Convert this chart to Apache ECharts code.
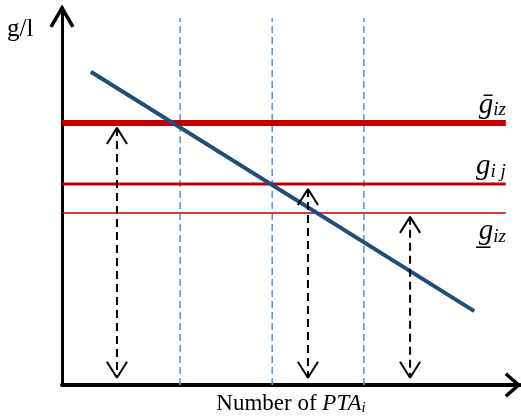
<!DOCTYPE html>
<html>
<head>
<meta charset="utf-8">
<script src="https://cdn.jsdelivr.net/npm/echarts@6/dist/echarts.min.js"></script>
<style>html,body{margin:0;padding:0;background:#fff}#c{width:521px;height:417px}</style>
</head>
<body>
<div id="c"></div>
<script>
// ---- data (schematic, axis units 0..100) ----
const regressionLine = [[6.3, 83.1], [90.0, 19.6]];
const levelNames = ['{g|ḡ}{s|iz}', '{g|g}{s|i j}', '{g|g̲}{s|iz}'];
const levelValues = [69.5, 53.3, 45.6];
const levelEnd = 96.9;
const verticalX = [25.8, 45.9, 65.9];
const verticalTop = 97.3;
const arrowX = [12.0, 53.7, 76.0];
const arrowTop = [68.2, 52.0, 44.6];
const arrowBottom = 1.9;
const axisTips = [[0, 100], [99.7, 0]];
const xAxisName = '{n|Number of }{p|PTA}{i|i}';
const yAxisName = 'g/l';

// ---- styles ----
const levelWidths = [6, 3, 1.5];
const red = '#c00000';
const hw = 2.2, hh = 4.25; // chevron half-width / height in axis units

function seg(data, lineStyle) {
  return { type: 'line', silent: true, symbol: 'none', clip: false, animation: false, data: data, lineStyle: lineStyle };
}

const series = [];
verticalX.forEach(x => series.push(seg([[x, 0], [x, verticalTop]], { color: '#5b9bd5', width: 1.6, type: [7, 4] })));
levelValues.forEach((v, i) => series.push({
  type: 'line', silent: true, clip: false,
  symbol: 'circle', symbolSize: 0, showSymbol: true,
  itemStyle: { color: red },
  data: [[0, v], {
    value: [levelEnd, v],
    label: {
      show: true, formatter: levelNames[i], position: i === 2 ? 'bottom' : 'top',
      align: 'right', distance: i === 2 ? 4 : 3,
      rich: {
        g: { fontFamily: 'Liberation Serif', fontStyle: 'italic', fontSize: 29, color: '#000', verticalAlign: 'bottom' },
        s: { fontFamily: 'Liberation Serif', fontStyle: 'italic', fontSize: 19, color: '#000', verticalAlign: 'bottom' }
      }
    }
  }],
  lineStyle: { color: red, width: levelWidths[i], cap: 'butt' }
}));
series.push(seg(regressionLine, { color: '#1f4e79', width: 4 }));
arrowX.forEach((x, i) => {
  series.push(seg([[x, arrowTop[i]], [x, arrowBottom]], { color: '#000', width: 2, type: [8, 5] }));
  series.push(seg([[x - hw, arrowTop[i] - hh], [x, arrowTop[i]], [x + hw, arrowTop[i] - hh]], { color: '#000', width: 2 }));
  series.push(seg([[x - hw, arrowBottom + hh], [x, arrowBottom], [x + hw, arrowBottom + hh]], { color: '#000', width: 2 }));
});
// axis arrow heads (open chevrons), drawn through the axis scales
series.push({
  type: 'custom', silent: true, clip: false,
  data: axisTips,
  encode: { x: 0, y: 1 },
  renderItem: function (params, api) {
    const tx = api.value(0), ty = api.value(1);
    const pts = params.dataIndex === 0
      ? [[tx - 2.4, ty - 5], [tx, ty], [tx + 2.4, ty - 5]]
      : [[tx - 2.8, ty + 3.0], [tx, ty], [tx - 2.8, ty - 3.0]];
    return {
      type: 'polyline',
      shape: { points: pts.map(p => api.coord(p)) },
      style: { stroke: '#000', lineWidth: 3.5, fill: null }
    };
  }
});

const chart = echarts.init(document.getElementById('c'));
chart.setOption({
  animation: false,
  backgroundColor: '#fff',
  grid: { left: 62, right: 1, top: 8, bottom: 32, containLabel: false, outerBoundsMode: 'none' },
  xAxis: {
    type: 'value', min: 0, max: 100,
    axisLine: { show: true, lineStyle: { color: '#000', width: 4 } },
    axisTick: { show: false }, axisLabel: { show: false }, splitLine: { show: false },
    name: xAxisName, nameLocation: 'middle', nameGap: 7,
    nameTextStyle: {
      rich: {
        n: { fontFamily: 'Liberation Serif', fontSize: 23, color: '#000', lineHeight: 24 },
        p: { fontFamily: 'Liberation Serif', fontStyle: 'italic', fontSize: 23, color: '#000', lineHeight: 24 },
        i: { fontFamily: 'Liberation Serif', fontStyle: 'italic', fontSize: 15, color: '#000', verticalAlign: 'bottom', lineHeight: 15 }
      }
    }
  },
  yAxis: {
    type: 'value', min: 0, max: 100,
    axisLine: { show: true, lineStyle: { color: '#000', width: 3 } },
    axisTick: { show: false }, axisLabel: { show: false }, splitLine: { show: false }
  },
  graphic: [{
    type: 'text', left: 7, top: 17,
    style: { text: yAxisName, font: '25px "Liberation Serif"', fill: '#000' }
  }],
  series: series
});
</script>
</body>
</html>
